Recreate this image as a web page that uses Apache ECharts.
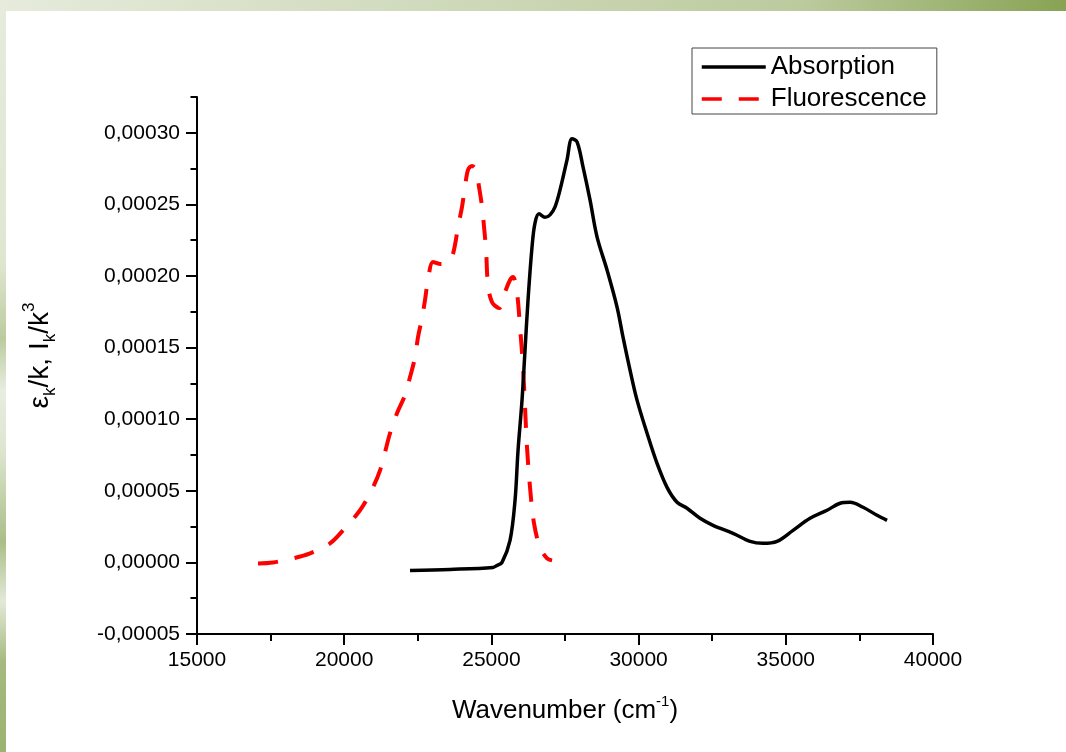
<!DOCTYPE html>
<html>
<head>
<meta charset="utf-8">
<script src="https://cdn.jsdelivr.net/npm/echarts@6/dist/echarts.min.js"></script>
<style>
html,body{margin:0;padding:0;background:#fff;}
#chart{width:1066px;height:752px;}
</style>
</head>
<body>
<div id="chart"></div>
<script>
// Absorption (black solid)
const absWavenumber = [22236, 23594, 25055, 25191, 25361, 25633, 25803, 25905, 26040, 26142, 26244, 26380, 26482, 26618, 26822, 26992, 27162, 27331, 27569, 27739, 27909, 28112, 28350, 28588, 28928, 29268, 29471, 29709, 29947, 30287, 30626, 30966, 31306, 31645, 32087, 32529, 33208, 33785, 34227, 34703, 35246, 35824, 36401, 36843, 37183, 37624, 38100, 38439];
const absValue = [-5.6e-6, -4.9e-6, -3.5e-6, -2.1e-6, 0, 1.54e-5, 4.34e-5, 7.83e-5, 1.133e-4, 1.483e-4, 1.832e-4, 2.203e-4, 2.371e-4, 2.434e-4, 2.410e-4, 2.427e-4, 2.483e-4, 2.601e-4, 2.811e-4, 2.958e-4, 2.937e-4, 2.762e-4, 2.531e-4, 2.273e-4, 2.042e-4, 1.783e-4, 1.573e-4, 1.343e-4, 1.133e-4, 9.02e-5, 6.92e-5, 5.24e-5, 4.20e-5, 3.78e-5, 3.08e-5, 2.59e-5, 2.03e-5, 1.47e-5, 1.33e-5, 1.47e-5, 2.24e-5, 3.08e-5, 3.64e-5, 4.13e-5, 4.20e-5, 3.85e-5, 3.29e-5, 2.94e-5];

// Fluorescence (red dashed)
const fluWavenumber = [17072, 17582, 18261, 18839, 19518, 19960, 20537, 20877, 21217, 21556, 21794, 22066, 22236, 22406, 22507, 22643, 22745, 22847, 23017, 23255, 23527, 23662, 23764, 23866, 24002, 24104, 24206, 24342, 24478, 24580, 24682, 24750, 24818, 24886, 25021, 25259, 25463, 25633, 25734, 25870, 25972, 26074, 26142, 26210, 26312, 26448, 26652, 26890, 27060];
const fluValue = [-7e-7, 0, 2.8e-6, 6.3e-6, 1.33e-5, 2.24e-5, 3.64e-5, 4.83e-5, 6.43e-5, 9.02e-5, 1.042e-4, 1.168e-4, 1.294e-4, 1.434e-4, 1.573e-4, 1.706e-4, 1.832e-4, 1.972e-4, 2.098e-4, 2.084e-4, 2.091e-4, 2.133e-4, 2.217e-4, 2.343e-4, 2.483e-4, 2.622e-4, 2.741e-4, 2.769e-4, 2.741e-4, 2.622e-4, 2.483e-4, 2.343e-4, 2.182e-4, 1.937e-4, 1.818e-4, 1.776e-4, 1.888e-4, 1.972e-4, 1.993e-4, 1.881e-4, 1.643e-4, 1.364e-4, 1.084e-4, 8.04e-5, 5.24e-5, 2.73e-5, 1.05e-5, 2.8e-6, 1.4e-6];

const seriesNames = ['Absorption', 'Fluorescence'];
const yMajorTicks = [-0.00005, 0, 0.00005, 0.0001, 0.00015, 0.0002, 0.00025, 0.0003];
const xTicks = [15000, 20000, 25000, 30000, 35000, 40000];

const absData = absWavenumber.map((x, i) => [x, absValue[i]]);
const fluData = fluWavenumber.map((x, i) => [x, fluValue[i]]);

const FONT = 'Liberation Sans';
const chart = echarts.init(document.getElementById('chart'), null, {renderer: 'canvas'});

const option = {
  backgroundColor: '#ffffff',
  animation: false,
  graphic: [
    {
      type: 'rect', left: 0, top: 0, z: 100,
      shape: {x: 0, y: 0, width: 1066, height: 11},
      style: {fill: new echarts.graphic.LinearGradient(0, 0, 1, 0, [
        {offset: 0, color: '#e6ebdc'},
        {offset: 0.45, color: '#cdd8b8'},
        {offset: 0.75, color: '#bccb9e'},
        {offset: 1, color: '#88a354'}
      ])}
    },
    {
      type: 'rect', left: 0, top: 0, z: 100,
      shape: {x: 0, y: 0, width: 6, height: 752},
      style: {fill: new echarts.graphic.LinearGradient(0, 0, 0, 1, [
        {offset: 0, color: '#e6ebdc'},
        {offset: 0.35, color: '#dfe6d0'},
        {offset: 0.45, color: '#bccb9f'},
        {offset: 0.52, color: '#e8ede0'},
        {offset: 0.6, color: '#dde5cf'},
        {offset: 0.72, color: '#aabe88'},
        {offset: 0.8, color: '#e3e9d8'},
        {offset: 0.88, color: '#a5ba7f'},
        {offset: 1, color: '#9bb372'}
      ])}
    }
  ],
  legend: {
    orient: 'vertical',
    left: 692,
    top: 48,
    padding: [6, 10, 2, 8],
    itemWidth: 64,
    itemHeight: 14,
    itemGap: 6,
    borderColor: '#444',
    borderWidth: 1,
    backgroundColor: '#fff',
    data: seriesNames,
    itemStyle: {opacity: 0},
    lineStyle: {width: 3.5},
    textStyle: {fontFamily: FONT, fontSize: 26, lineHeight: 26, color: '#000'}
  },
  grid: {left: 197, right: 133, top: 97, bottom: 118, containLabel: false},
  xAxis: {
    type: 'value',
    min: 15000,
    max: 40000,
    interval: 5000,
    name: '{t|Wavenumber (cm}{p|-1}{t|)}',
    nameLocation: 'middle',
    nameGap: 60,
    nameTextStyle: {
      rich: {
        t: {fontFamily: FONT, fontSize: 26, lineHeight: 34, color: '#000'},
        p: {fontFamily: FONT, fontSize: 15, lineHeight: 15, verticalAlign: 'top', color: '#000'}
      }
    },
    axisLine: {show: true, onZero: false, lineStyle: {color: '#000', width: 2}},
    axisTick: {show: true, inside: false, length: 11, lineStyle: {color: '#000', width: 2}},
    minorTick: {show: true, splitNumber: 2, length: 7, lineStyle: {color: '#000', width: 2}},
    axisLabel: {
      fontFamily: FONT, fontSize: 21, color: '#000', margin: 16,
      customValues: xTicks,
      formatter: v => String(v)
    },
    splitLine: {show: false}
  },
  yAxis: [
    {
      type: 'value',
      min: -0.00005,
      max: 0.000325,
      interval: 0.000025,
      position: 'left',
      axisLine: {show: true, onZero: false, lineStyle: {color: '#000', width: 2}},
      axisTick: {show: true, inside: false, length: 6.5, lineStyle: {color: '#000', width: 2}},
      axisLabel: {show: false},
      splitLine: {show: false}
    },
    {
      type: 'value',
      min: -0.00005,
      max: 0.000325,
      interval: 0.00005,
      position: 'left',
      offset: 0,
      name: '{t|ε}{s|k}{t|/k, I}{s|k}{t|/k}{p|3}',
      nameLocation: 'middle',
      nameGap: 138,
      nameTextStyle: {
        padding: [0, 0, 0, 20],
        rich: {
          t: {fontFamily: FONT, fontSize: 28, lineHeight: 38, color: '#000'},
          s: {fontFamily: FONT, fontSize: 17, lineHeight: 17, verticalAlign: 'bottom', color: '#000'},
          p: {fontFamily: FONT, fontSize: 17, lineHeight: 17, verticalAlign: 'top', color: '#000'}
        }
      },
      axisLine: {show: false},
      axisTick: {show: true, inside: false, length: 11, customValues: yMajorTicks, lineStyle: {color: '#000', width: 2}},
      axisLabel: {
        fontFamily: FONT, fontSize: 21, color: '#000', margin: 17,
        customValues: yMajorTicks,
        formatter: v => v.toFixed(5).replace('.', ',')
      },
      splitLine: {show: false}
    }
  ],
  series: [
    {
      name: seriesNames[0],
      type: 'line',
      data: absData,
      yAxisIndex: 0,
      showSymbol: false,
      symbol: 'none',
      smooth: 0.35,
      lineStyle: {color: '#000', width: 3.5, type: 'solid'},
      itemStyle: {color: '#000'},
      z: 3
    },
    {
      name: seriesNames[1],
      type: 'line',
      data: fluData,
      yAxisIndex: 0,
      showSymbol: false,
      symbol: 'none',
      smooth: 0.35,
      lineStyle: {color: '#ff0000', width: 4, type: [20, 17], cap: 'butt'},
      itemStyle: {color: '#ff0000'},
      z: 2
    }
  ]
};
chart.setOption(option);
</script>
</body>
</html>
